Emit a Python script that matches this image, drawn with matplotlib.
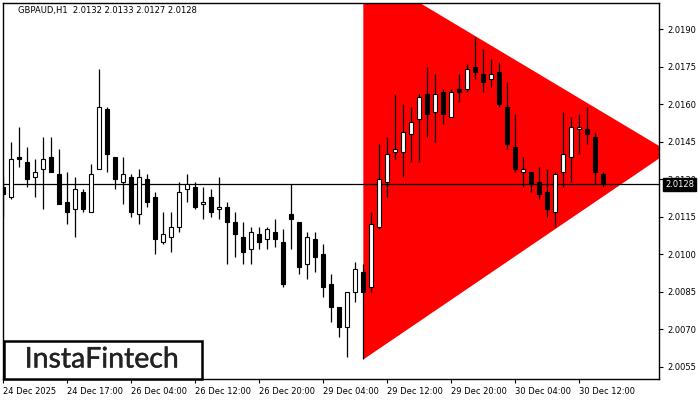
import numpy as np
import matplotlib
matplotlib.use("Agg")
import matplotlib.pyplot as plt
import matplotlib.patheffects as pe
from matplotlib.patches import Polygon, Rectangle
from matplotlib.transforms import blended_transform_factory

# ---- data ----
symbol = "GBPAUD,H1"
last_ohlc = ["2.0132", "2.0133", "2.0127", "2.0128"]
current_price = 2.0128

opens = [2.0127, 2.0123, 2.0139, 2.0137, 2.0131, 2.0134, 2.0139, 2.0132, 2.0121, 2.0118,
         2.0125, 2.0117, 2.0134, 2.0158, 2.0139, 2.0129, 2.0131, 2.0116, 2.0130, 2.0123,
         2.0105, 2.0107, 2.0111, 2.0126, 2.0127, 2.0120, 2.0123, 2.0118, 2.0119, 2.0113,
         2.0107, 2.0102, 2.0108, 2.0106, 2.0109, 2.0105, 2.0116, 2.0113, 2.0096, 2.0106,
         2.0100, 2.0088, 2.0079, 2.0071, 2.0085, 2.0093, 2.0087, 2.0111, 2.0129, 2.0141,
         2.0141, 2.0148, 2.0154, 2.0164, 2.0157, 2.0165, 2.0155, 2.0166, 2.0166, 2.0175,
         2.0172, 2.0170, 2.0173, 2.0159, 2.0143, 2.0133, 2.0133, 2.0129, 2.0125, 2.0117,
         2.0133, 2.0139, 2.0150, 2.0150, 2.0147, 2.0132]
highs = [2.0131, 2.0145, 2.0151, 2.0143, 2.0138, 2.0147, 2.0147, 2.0142, 2.0133, 2.0131,
         2.0126, 2.0136, 2.0174, 2.0159, 2.0139, 2.0139, 2.0132, 2.0134, 2.0132, 2.0125,
         2.0117, 2.0117, 2.0129, 2.0132, 2.0129, 2.0127, 2.0126, 2.0131, 2.0121, 2.0117,
         2.0113, 2.0111, 2.0111, 2.0111, 2.0114, 2.0110, 2.0128, 2.0113, 2.0109, 2.0109,
         2.0104, 2.0092, 2.0079, 2.0085, 2.0097, 2.0096, 2.0117, 2.0144, 2.0147, 2.0164,
         2.0160, 2.0159, 2.0164, 2.0175, 2.0172, 2.0166, 2.0166, 2.0172, 2.0176, 2.0187,
         2.0182, 2.0178, 2.0177, 2.0169, 2.0156, 2.0139, 2.0133, 2.0135, 2.0134, 2.0133,
         2.0157, 2.0155, 2.0156, 2.0159, 2.0149, 2.0133]
lows = [2.0115, 2.0122, 2.0135, 2.0127, 2.0123, 2.0118, 2.0133, 2.0120, 2.0112, 2.0107,
        2.0117, 2.0117, 2.0134, 2.0133, 2.0126, 2.0120, 2.0115, 2.0112, 2.0119, 2.0100,
        2.0104, 2.0101, 2.0109, 2.0121, 2.0118, 2.0114, 2.0115, 2.0114, 2.0096, 2.0099,
        2.0096, 2.0096, 2.0102, 2.0102, 2.0103, 2.0087, 2.0102, 2.0092, 2.0090, 2.0093,
        2.0083, 2.0073, 2.0067, 2.0059, 2.0081, 2.0058, 2.0085, 2.0110, 2.0123, 2.0138,
        2.0131, 2.0137, 2.0137, 2.0147, 2.0145, 2.0152, 2.0155, 2.0161, 2.0165, 2.0170,
        2.0165, 2.0167, 2.0159, 2.0142, 2.0133, 2.0127, 2.0125, 2.0122, 2.0115, 2.0111,
        2.0127, 2.0129, 2.0140, 2.0144, 2.0128, 2.0127]
closes = [2.0124, 2.0138, 2.0138, 2.0130, 2.0133, 2.0138, 2.0133, 2.0120, 2.0117, 2.0126,
          2.0118, 2.0132, 2.0159, 2.0140, 2.0130, 2.0132, 2.0117, 2.0131, 2.0121, 2.0106,
          2.0108, 2.0111, 2.0125, 2.0128, 2.0119, 2.0121, 2.0117, 2.0119, 2.0113, 2.0108,
          2.0101, 2.0109, 2.0105, 2.0110, 2.0106, 2.0088, 2.0114, 2.0095, 2.0107, 2.0099,
          2.0087, 2.0079, 2.0071, 2.0085, 2.0094, 2.0085, 2.0112, 2.0130, 2.0140, 2.0142,
          2.0149, 2.0153, 2.0163, 2.0156, 2.0164, 2.0156, 2.0165, 2.0165, 2.0174, 2.0173,
          2.0169, 2.0172, 2.0160, 2.0144, 2.0134, 2.0134, 2.0128, 2.0124, 2.0118, 2.0132,
          2.0140, 2.0151, 2.0151, 2.0148, 2.0133, 2.0128]

# bearish symmetrical triangle (bar index, price)
pattern_bars = [45, 83.2, 45]
pattern_prices = [2.0214, 2.0141, 2.0058]

xtick_bars = [0, 8, 16, 24, 32, 40, 48, 56, 64, 72]
xtick_labels = ["24 Dec 2025", "24 Dec 17:00", "26 Dec 04:00", "26 Dec 12:00",
                "26 Dec 20:00", "29 Dec 04:00", "29 Dec 12:00", "29 Dec 20:00",
                "30 Dec 04:00", "30 Dec 12:00"]
ytick_values = [2.0055, 2.0070, 2.0085, 2.0100, 2.0115, 2.0130, 2.0145, 2.0160, 2.0175, 2.0190]

brand = "InstaFintech"

# ---- figure ----
W, H = 700, 400
fig = plt.figure(figsize=(7, 4), dpi=100)
fig.patch.set_facecolor("white")
ax = fig.add_axes([2.7 / W, 1 - 379 / H, (659 - 2.7) / W, (379 - 2.7) / H])
ax.set_facecolor("white")

x = np.arange(len(opens))
o = np.array(opens); c = np.array(closes); h = np.array(highs); l = np.array(lows)

# triangle
tri = Polygon(np.column_stack([pattern_bars, pattern_prices]), closed=True,
              facecolor="#FF0000", edgecolor="none", zorder=1)
ax.add_patch(tri)

# current price line
ax.axhline(current_price, color="black", lw=0.9, zorder=2)

# wicks
ax.vlines(x, l, h, color="black", lw=0.9, zorder=3)

# bodies
up = c >= o
bottoms = np.minimum(o, c)
heights = np.maximum(np.abs(c - o), 0.00003)
ax.bar(x[up], heights[up], bottom=bottoms[up], width=0.5, facecolor="white",
       edgecolor="black", linewidth=0.8, zorder=4)
ax.bar(x[~up], heights[~up], bottom=bottoms[~up], width=0.5, facecolor="black",
       edgecolor="black", linewidth=0.8, zorder=4)

ax.set_xlim(-0.08, 81.96)
ax.set_ylim(2.00502, 2.02006)

for s in ax.spines.values():
    s.set_color("black")
    s.set_linewidth(1.0)

ax.yaxis.tick_right()
ax.set_yticks(ytick_values)
ax.set_yticklabels([f"{v:.4f}" for v in ytick_values])
ax.tick_params(axis="y", direction="out", length=3, width=0.8, pad=3,
               labelsize=6, colors="black")
ax.set_xticks(xtick_bars)
ax.set_xticklabels(xtick_labels)
ax.tick_params(axis="x", direction="out", length=3, width=0.8, pad=3,
               labelsize=6, colors="black")
for lab in ax.get_xticklabels():
    lab.set_horizontalalignment("left")

# current price tag
trans = blended_transform_factory(ax.transAxes, ax.transData)
ax.text(1 + (665 - 659) / (659 - 2.7), current_price, f"{current_price:.4f}",
        transform=trans, ha="left", va="center", fontsize=6, color="white",
        clip_on=False, zorder=10,
        bbox=dict(boxstyle="square,pad=0.28", facecolor="black", edgecolor="black"))

# header
fig.text(18 / W, 1 - 11 / H, f"{symbol}  " + " ".join(last_ohlc), ha="left",
         va="center", fontsize=6, color="black")

# logo box
fig.add_artist(Rectangle((4 / W, 21 / H), 198 / W, 38 / H, transform=fig.transFigure,
                         facecolor="white", edgecolor="black", linewidth=1.8, zorder=5))
fig.text(102 / W, 1 - 359.5 / H, brand, ha="center", va="center", fontsize=20.5,
         family=["Lato", "DejaVu Sans"], color="#222222", zorder=6,
         path_effects=[pe.withStroke(linewidth=0.3, foreground="#222222")])

fig.savefig("out.png", dpi=100)
